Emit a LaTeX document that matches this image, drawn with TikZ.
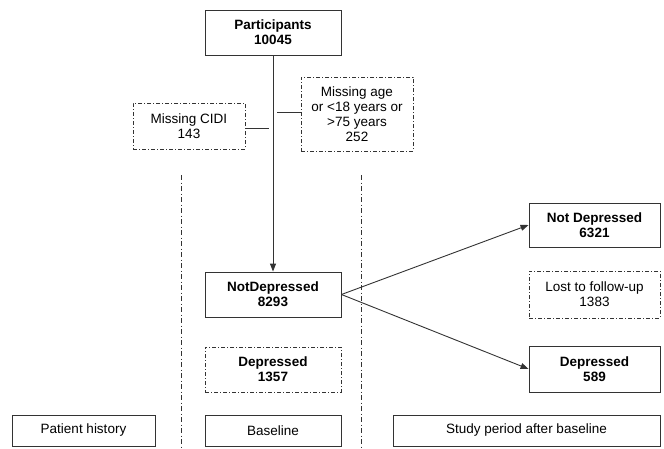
\documentclass[tikz,border=0pt]{standalone}
\usepackage{fontspec}
\setmainfont{Liberation Sans}
\usetikzlibrary{arrows.meta}
\definecolor{ln}{HTML}{333333}
\tikzset{
  box/.style={draw=ln, line width=0.9pt, align=center, inner sep=0pt,
    font=\fontsize{13.5}{15}\selectfont},
  solidbox/.style={box},
  dotbox/.style={box, dash pattern=on 4pt off 2pt on 1pt off 2pt, line width=0.7pt},
  divider/.style={draw=ln, line width=0.7pt, dash pattern=on 5pt off 2.5pt on 1pt off 2.5pt},
  conn/.style={draw=ln, line width=0.9pt},
  arr/.style={conn, -{Triangle[length=8pt,width=6pt]}},
}
\begin{document}
\begin{tikzpicture}[x=1pt,y=-1pt]
\useasboundingbox (0,0) rectangle (664,448);
% dividers
\coordinate (d1t) at (181,175); \coordinate (d1b) at (181,448);
\coordinate (d2t) at (361,175); \coordinate (d2b) at (361,448);
\draw[divider] (d1t) -- (d1b);
\draw[divider] (d2t) -- (d2b);
% nodes
\node[solidbox, minimum width=136pt, minimum height=45pt] (part) at (273,32.5) {\textbf{Participants}\\\textbf{10045}};
\node[dotbox, minimum width=112pt, minimum height=46pt] (cidi) at (189,126) {Missing CIDI\\143};
\node[dotbox, minimum width=112pt, minimum height=74pt] (age) at (357,114) {Missing age\\or {<}18 years or\\{>}75 years\\252};
\node[solidbox, minimum width=136pt, minimum height=45pt] (nd) at (273,294.5) {\textbf{NotDepressed}\\\textbf{8293}};
\node[dotbox, minimum width=136pt, minimum height=45pt] (dep) at (273,369.5) {\textbf{Depressed}\\\textbf{1357}};
\node[solidbox, minimum width=131pt, minimum height=44pt] (nd2) at (594.5,225) {\textbf{Not Depressed}\\\textbf{6321}};
\node[dotbox, minimum width=131pt, minimum height=47pt] (lost) at (594.5,294.5) {Lost to follow-up\\1383};
\node[solidbox, minimum width=131pt, minimum height=46pt] (dep2) at (594.5,369) {\textbf{Depressed}\\\textbf{589}};
\node[solidbox, minimum width=143pt, minimum height=31pt] (ph) at (83.5,430.5) {Patient history};
\node[solidbox, minimum width=136pt, minimum height=31pt] (bl) at (273,430.5) {Baseline};
\node[solidbox, minimum width=267pt, minimum height=31pt] (sp) at (526.5,430.5) {Study period after baseline};
% connectors
\coordinate (cidiend) at (269,128);
\coordinate (ageend) at (277,112);
\draw[conn] (cidi.east |- cidiend) -- (cidiend);
\draw[conn] (age.west |- ageend) -- (ageend);
\draw[arr] (part) -- (nd);
\draw[arr] (nd.east) -- (nd2.west);
\draw[arr] (nd.east) -- (dep2.west);
\end{tikzpicture}
\end{document}
